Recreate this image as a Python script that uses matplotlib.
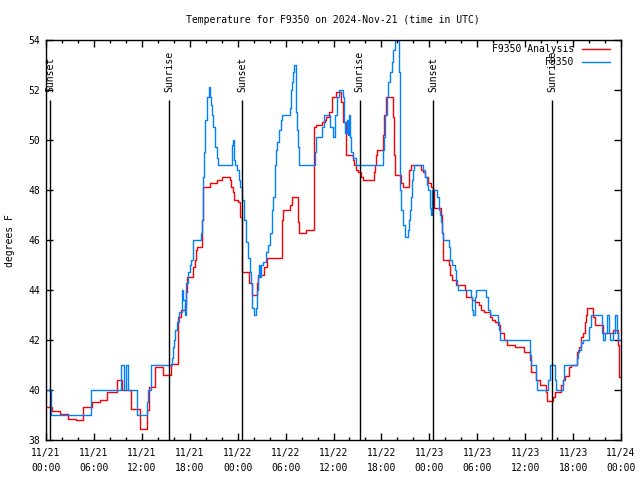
import numpy as np
import matplotlib
matplotlib.use('Agg')
import matplotlib.pyplot as plt

plt.rcParams['font.family'] = ['DejaVu Sans Mono']
plt.rcParams['font.size'] = 7

# hours since 2024-11-21 00:00 UTC
analysis_h = [0, 0.7, 1.75, 2.8, 3.76, 4.65, 5.7, 6.7, 7.7, 8.85, 9.5, 10.7, 11.77, 12.7, 12.9,
              13.7, 14.7, 15.6, 16.5, 16.9, 17.4, 17.5, 17.6, 17.7, 18.45, 18.6, 18.8, 18.95,
              19.5, 19.6, 19.7, 20.5, 21.4, 22.1, 23.0, 23.2, 23.4, 23.6, 24.1, 24.35, 24.6,
              25.4, 25.8, 26.45, 26.6, 27.3, 27.7, 29.5, 29.6, 29.7, 30.55, 30.8, 31.5, 31.7,
              32.6, 33.5, 33.6, 33.8, 34.5, 34.9, 35.1, 35.4, 35.8, 36.3, 37.0, 37.2, 37.55,
              38.4, 38.6, 38.8, 39.1, 39.5, 39.7, 41.1, 41.2, 41.3, 41.45, 42.2, 42.35, 42.6,
              43.4, 43.55, 43.7, 44.5, 44.65, 45.4, 45.75, 47.0, 47.25, 47.5, 47.8, 48.2, 48.5,
              48.6, 49.45, 49.55, 49.65, 50.5, 50.65, 50.8, 51.4, 52.5, 52.65, 53.3, 53.75,
              54.2, 54.5, 54.8, 55.6, 55.9, 56.2, 56.6, 56.8, 57.3, 57.7, 58.7, 59.8, 60.6,
              60.7, 61.3, 61.9, 62.6, 62.7, 63.5, 63.7, 64.5, 64.7, 64.95, 65.5, 65.75, 66.5,
              66.7, 66.95, 67.25, 67.45, 67.65, 67.8, 68.5, 68.7, 69.7, 71.0, 71.6, 71.7, 71.8, 72.0]
analysis_t = [39.3, 39.15, 39.05, 38.85, 38.8, 39.3, 39.5, 39.6, 39.9, 40.4, 40.0, 39.25, 38.45,
              39.2, 40.1, 40.9, 40.6, 41.05, 42.9, 43.2, 43.4, 43.9, 44.2, 44.5, 44.9, 45.2,
              45.6, 45.7, 46.8, 47.5, 48.1, 48.3, 48.4, 48.5, 48.4, 48.1, 47.9, 47.6, 47.5,
              46.9, 44.7, 44.3, 43.8, 44.3, 44.6, 44.9, 45.3, 45.9, 46.8, 47.2, 47.4, 47.7,
              46.7, 46.3, 46.4, 47.4, 50.5, 50.6, 50.7, 50.8, 50.9, 51.1, 51.7, 51.9, 51.5,
              50.7, 49.4, 49.2, 49.0, 48.8, 48.7, 48.5, 48.4, 48.7, 49.0, 49.4, 49.6, 50.2,
              51.0, 51.7, 50.9, 49.4, 48.6, 48.3, 48.1, 48.8, 49.0, 48.8, 48.7, 48.5, 48.3,
              48.1, 48.0, 47.3, 47.0, 46.3, 45.2, 45.0, 44.6, 44.4, 44.2, 44.0, 43.7, 43.6,
              43.5, 43.4, 43.2, 43.1, 42.9, 42.8, 42.7, 42.6, 42.3, 42.0, 41.8, 41.7, 41.5,
              41.2, 40.7, 40.4, 40.2, 39.9, 39.56, 39.7, 39.9, 40.2, 40.4, 40.56, 40.9, 41.0,
              41.5, 41.7, 42.1, 42.3, 42.7, 43.0, 43.3, 42.9, 42.6, 42.3, 42.4, 41.8, 41.0,
              40.5, 40.5]

obs_h = [0, 0.6, 5.6, 9.4, 9.8, 10.0, 10.3, 11.4, 12.6, 12.8, 13.1, 15.74, 15.9, 16.0, 16.2,
         16.4, 16.6, 17.0, 17.2, 17.4, 17.55, 17.8, 18.0, 18.2, 18.45, 19.4, 19.55, 19.65,
         19.8, 19.95, 20.1, 20.35, 20.55, 20.66, 20.83, 20.95, 21.16, 21.37, 21.5, 23.25,
         23.45, 23.54, 23.7, 23.96, 24.17, 24.3, 24.6, 24.75, 24.85, 25.0, 25.1, 25.3, 25.5,
         25.65, 25.85, 26.0, 26.25, 26.4, 26.55, 26.7, 26.8, 26.95, 27.2, 27.6, 27.85, 28.05,
         28.3, 28.45, 28.65, 28.8, 28.97, 29.2, 29.4, 29.5, 30.55, 30.62, 30.8, 30.9, 31.05,
         31.25, 31.35, 31.45, 31.55, 31.7, 33.65, 33.85, 34.6, 34.85, 35.6, 35.9, 36.25, 36.5,
         36.7, 37.2, 37.3, 37.5, 37.65, 37.8, 37.95, 38.05, 38.25, 38.5, 38.8, 42.15, 42.3,
         42.45, 42.65, 42.85, 43.05, 43.3, 43.5, 43.7, 44.15, 44.3, 44.38, 44.5, 44.7, 44.9,
         45.3, 45.4, 45.55, 45.75, 45.85, 45.95, 46.1, 47.25, 47.45, 47.65, 47.85, 48.05,
         48.15, 48.3, 49.0, 49.15, 49.3, 49.45, 49.6, 49.75, 50.5, 50.65, 50.8, 51.2, 51.3,
         51.45, 51.55, 53.2, 53.35, 53.5, 53.75, 53.9, 55.1, 55.35, 55.55, 56.55, 56.7, 56.8,
         60.6, 60.7, 61.35, 61.5, 62.9, 63.05, 63.7, 63.9, 64.7, 64.85, 66.45, 66.6, 66.95,
         67.2, 68.05, 68.25, 69.6, 69.75, 69.95, 70.2, 70.5, 70.65, 70.95, 71.2, 71.5, 71.65, 72.0]
obs_t = [40.0, 39.0, 40.0, 41.0, 40.0, 41.0, 40.0, 39.0, 39.5, 40.0, 41.0, 41.3, 41.7, 42.0,
         42.4, 42.7, 43.1, 44.0, 43.6, 43.0, 44.3, 44.7, 45.0, 45.2, 46.0, 46.3, 46.8, 48.5,
         49.5, 50.8, 51.7, 52.1, 51.7, 51.4, 51.0, 50.5, 49.7, 49.3, 49.0, 49.8, 50.0, 49.2,
         49.0, 48.8, 48.4, 48.1, 47.6, 47.2, 46.8, 46.4, 45.9, 45.3, 44.7, 44.3, 43.3, 43.0,
         43.3, 44.0, 44.5, 45.0, 44.5, 45.0, 45.1, 45.5, 45.8, 46.3, 47.2, 47.7, 49.0, 49.6,
         49.9, 50.4, 50.8, 51.0, 51.3, 52.0, 52.3, 52.7, 53.0, 52.3, 51.1, 50.4, 49.7, 49.0,
         49.5, 50.1, 50.5, 51.0, 50.5, 50.1, 51.0, 51.7, 52.0, 51.7, 50.7, 50.3, 50.8, 50.2,
         51.0, 50.1, 49.5, 49.3, 49.0, 49.6, 50.1, 51.0, 51.7, 52.3, 52.7, 53.1, 53.6, 54.5,
         52.7, 50.4, 48.0, 47.2, 46.6, 46.1, 46.4, 46.8, 47.2, 47.7, 48.4, 48.8, 49.0, 48.8,
         48.5, 48.2, 48.0, 47.3, 47.0, 48.0, 47.7, 47.2, 47.0, 46.7, 46.3, 46.0, 45.7, 45.2,
         45.0, 44.8, 44.4, 44.2, 44.0, 43.7, 43.2, 43.0, 43.7, 44.0, 43.7, 43.2, 43.0, 42.7,
         42.4, 42.0, 41.4, 41.0, 40.4, 40.0, 40.4, 41.0, 40.4, 40.0, 40.4, 41.0, 41.3, 41.6,
         41.9, 42.0, 42.5, 43.0, 42.3, 42.0, 42.3, 43.0, 42.3, 42.0, 42.3, 43.0, 42.3, 42.0, 42.0]

sun_h = [0.5, 15.4, 24.55, 39.3, 48.45, 63.35]
sun_labels = ['Sunset', 'Sunrise', 'Sunset', 'Sunrise', 'Sunset', 'Sunrise']

tick_h = list(range(0, 73, 6))
tick_labels = ['11/21\n00:00', '11/21\n06:00', '11/21\n12:00', '11/21\n18:00',
               '11/22\n00:00', '11/22\n06:00', '11/22\n12:00', '11/22\n18:00',
               '11/23\n00:00', '11/23\n06:00', '11/23\n12:00', '11/23\n18:00',
               '11/24\n00:00']

red = '#ff0000'
blue = '#0080ff'

fig = plt.figure(figsize=(6.4, 4.8), dpi=100)
ax = fig.add_axes([46/640, 40/480, 575/640, 400/480])

ax.step(analysis_h, analysis_t, where='post', color=red, lw=1)
ax.step(obs_h, obs_t, where='post', color=blue, lw=1)

ax.vlines(sun_h, 38, 51.6, color='black', lw=1)
for h, lab in zip(sun_h, sun_labels):
    ax.text(h, 51.92, lab, rotation=90, ha='center', va='bottom')

ax.set_xlim(0, 72)
ax.set_ylim(38, 54)
ax.set_xticks(tick_h)
ax.set_xticklabels(tick_labels)
for t in ax.get_xticklabels():
    t.set_linespacing(1.55)
ax.set_xticks(range(0, 73, 2), minor=True)
ax.set_yticks(range(38, 55, 2))
ax.tick_params(which='both', direction='in', top=True, right=True, width=1, color='black')
ax.tick_params(which='major', length=5)
ax.tick_params(which='minor', length=2.5)
ax.tick_params(axis='x', pad=6)
ax.tick_params(axis='y', pad=4)
for s in ax.spines.values():
    s.set_linewidth(1)

# legend, gnuplot style
ax.text(0.918, 0.977, 'F9350 Analysis', transform=ax.transAxes, ha='right', va='center')
ax.plot([0.932, 0.981], [0.977, 0.977], transform=ax.transAxes, color=red, lw=1)
ax.text(0.918, 0.944, 'F9350', transform=ax.transAxes, ha='right', va='center')
ax.plot([0.932, 0.981], [0.944, 0.944], transform=ax.transAxes, color=blue, lw=1)

fig.text(333/640, 1 - 20/480, 'Temperature for F9350 on 2024-Nov-21 (time in UTC)',
         ha='center', va='center')
fig.text(10/640, 1 - 241/480, 'degrees F', rotation=90, ha='center', va='center')

fig.savefig('out.png', dpi=100)
